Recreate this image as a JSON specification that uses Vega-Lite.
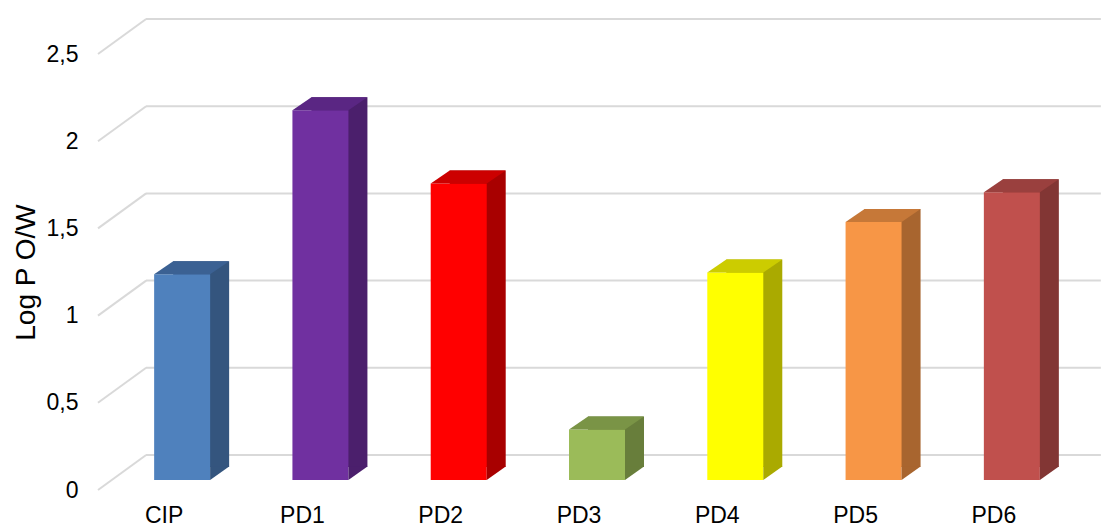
{
  "$schema": "https://vega.github.io/schema/vega-lite/v6.json",
  "width": 968,
  "height": 436,
  "autosize": "none",
  "padding": {"left": 95, "top": 54, "right": 39, "bottom": 38},
  "background": "white",
  "config": {"view": {"stroke": null}, "font": "Liberation Sans"},
  "datasets": {
    "bars": [
      {"name": "CIP", "logp": 1.18},
      {"name": "PD1", "logp": 2.12},
      {"name": "PD2", "logp": 1.70},
      {"name": "PD3", "logp": 0.29},
      {"name": "PD4", "logp": 1.19},
      {"name": "PD5", "logp": 1.48},
      {"name": "PD6", "logp": 1.65}
    ],
    "ticks": [{"v": 0}, {"v": 0.5}, {"v": 1}, {"v": 1.5}, {"v": 2}, {"v": 2.5}]
  },
  "encoding": {
    "x": {
      "field": "name", "type": "nominal", "sort": null,
      "scale": {"domain": ["CIP", "PD1", "PD2", "PD3", "PD4", "PD5", "PD6"], "paddingInner": 0, "paddingOuter": 0},
      "axis": {"title": null, "domain": false, "ticks": false, "labelAngle": 0, "labelFontSize": 23, "labelColor": "#000000", "labelPadding": 14, "labelFont": "Liberation Sans"}
    }
  },
  "layer": [
    {
      "data": {"name": "ticks"},
      "mark": {"type": "rule", "color": "#D9D9D9", "strokeWidth": 2, "xOffset": 3, "x2Offset": -18, "y2Offset": -35},
      "encoding": {
        "x": {"datum": "CIP", "bandPosition": 0},
        "x2": {"datum": "CIP"},
        "y": {"field": "v", "type": "quantitative", "scale": {"domain": [0, 2.5], "nice": false, "zero": true},
              "axis": {"title": "Log P O/W", "titleFontSize": 28, "titleFontWeight": "normal", "titleColor": "#000000", "titleFont": "Liberation Sans", "titlePadding": 6,
                       "values": [0, 0.5, 1, 1.5, 2, 2.5], "labelExpr": "replace(format(datum.value, '~g'), '.', ',')",
                       "domain": false, "ticks": false, "grid": false, "labelFontSize": 23, "labelColor": "#000000", "labelPadding": 17, "labelFont": "Liberation Sans"}},
        "y2": {"field": "v"}
      }
    },
    {
      "data": {"name": "ticks"},
      "mark": {"type": "rule", "color": "#D9D9D9", "strokeWidth": 2, "xOffset": 51, "x2Offset": 107, "yOffset": -35},
      "encoding": {
        "x": {"datum": "CIP", "bandPosition": 0},
        "x2": {"datum": "PD6"},
        "y": {"field": "v", "type": "quantitative", "scale": {"domain": [0, 2.5], "nice": false}}
      }
    },
    {
      "data": {"name": "bars"},
      "mark": {"type": "bar", "width": 56, "xOffset": 37, "yOffset": -23, "y2Offset": -23},
      "encoding": {
        "y": {"field": "logp", "type": "quantitative", "scale": {"domain": [0, 2.5], "nice": false}},
        "color": {"field": "name", "type": "nominal", "legend": null,
                  "scale": {"domain": ["CIP", "PD1", "PD2", "PD3", "PD4", "PD5", "PD6"],
                            "range": ["#34557E", "#4B1F6C", "#A80000", "#687E3B", "#AAAA00", "#A8652F", "#823634"]}}
      }
    },
    {
      "data": {"name": "bars"},
      "mark": {"type": "bar", "width": 56, "xOffset": 18, "yOffset": -10, "y2Offset": -10},
      "encoding": {
        "y": {"field": "logp", "type": "quantitative", "scale": {"domain": [0, 2.5], "nice": false}},
        "color": {"field": "name", "type": "nominal", "legend": null,
                  "scale": {"domain": ["CIP", "PD1", "PD2", "PD3", "PD4", "PD5", "PD6"],
                            "range": ["#4F81BD", "#7030A0", "#FF0000", "#9BBB59", "#FFFF00", "#F79646", "#C0504D"]}}
      }
    },
    {
      "data": {"name": "bars"},
      "mark": {"type": "point", "filled": true, "opacity": 1, "size": 4, "strokeWidth": 0, "xOffset": 18, "yOffset": -10,
               "shape": "M-28,0 L28,0 L47,-13 L-9,-13 Z"},
      "encoding": {
        "y": {"field": "logp", "type": "quantitative", "scale": {"domain": [0, 2.5], "nice": false}},
        "color": {"field": "name", "type": "nominal", "legend": null,
                  "scale": {"domain": ["CIP", "PD1", "PD2", "PD3", "PD4", "PD5", "PD6"],
                            "range": ["#3B6193", "#5A2683", "#CC0000", "#7A9446", "#CCCC00", "#C67838", "#9A403E"]}}
      }
    },
    {
      "data": {"name": "bars"},
      "mark": {"type": "point", "filled": true, "opacity": 1, "size": 4, "strokeWidth": 0, "xOffset": 18, "yOffset": -10,
               "shape": "M28,0 L28,-13.5 L47,-13.5 Z"},
      "encoding": {
        "y": {"datum": 0},
        "color": {"field": "name", "type": "nominal", "legend": null,
                  "scale": {"domain": ["CIP", "PD1", "PD2", "PD3", "PD4", "PD5", "PD6"],
                            "range": ["#34557E", "#4B1F6C", "#A80000", "#687E3B", "#AAAA00", "#A8652F", "#823634"]}}
      }
    }
  ],
  "resolve": {"scale": {"color": "independent"}}
}
